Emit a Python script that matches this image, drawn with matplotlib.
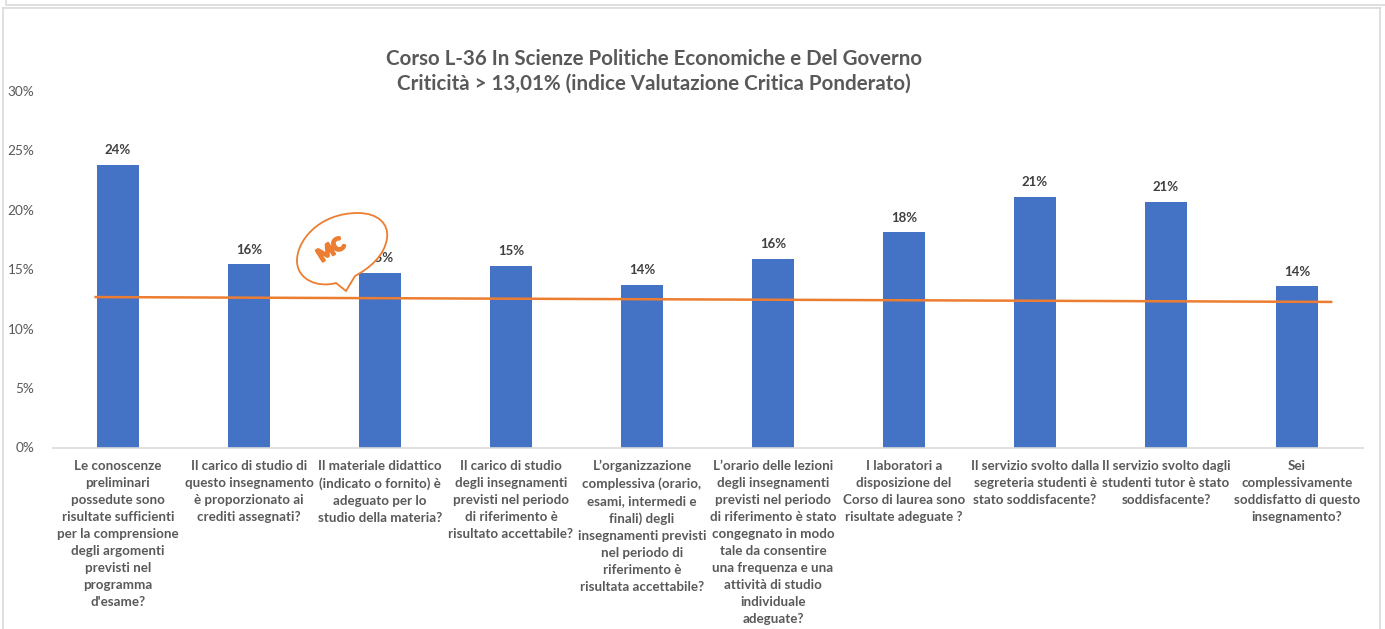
import matplotlib
matplotlib.use("Agg")
import matplotlib.pyplot as plt
import matplotlib.patheffects as pe
from matplotlib.path import Path
from matplotlib.patches import PathPatch
from matplotlib.ticker import FuncFormatter

W, H = 1385, 629

domande = [
    "Le conoscenze\npreliminari\npossedute sono\nrisultate sufficienti\nper la comprensione\ndegli argomenti\nprevisti nel\nprogramma\nd'esame?",
    "Il carico di studio di\nquesto insegnamento\nè proporzionato ai\ncrediti assegnati?",
    "Il materiale didattico\n(indicato o fornito) è\nadeguato per lo\nstudio della materia?",
    "Il carico di studio\ndegli insegnamenti\nprevisti nel periodo\ndi riferimento è\nrisultato accettabile?",
    "L’organizzazione\ncomplessiva (orario,\nesami, intermedi e\nfinali) degli\ninsegnamenti previsti\nnel periodo di\nriferimento è\nrisultata accettabile?",
    "L’orario delle lezioni\ndegli insegnamenti\nprevisti nel periodo\ndi riferimento è stato\ncongegnato in modo\ntale da consentire\nuna frequenza e una\nattività di studio\nindividuale\nadeguate?",
    "I laboratori a\ndisposizione del\nCorso di laurea sono\nrisultate adeguate ?",
    "Il servizio svolto dalla\nsegreteria studenti è\nstato soddisfacente?",
    "Il servizio svolto dagli\nstudenti tutor è stato\nsoddisfacente?",
    "Sei\ncomplessivamente\nsoddisfatto di questo\ninsegnamento?",
]
criticita = [23.8, 15.45, 14.7, 15.3, 13.7, 15.9, 18.1, 21.1, 20.7, 13.55]
etichette = ["24%", "16%", "15%", "15%", "14%", "16%", "18%", "21%", "21%", "14%"]
soglia_x = [-0.18, 9.27]
soglia_y = [12.66, 12.25]
tick_y = [0, 5, 10, 15, 20, 25, 30]
titolo = "Corso L-36 In Scienze Politiche Economiche e Del Governo\nCriticità > 13,01% (indice Valutazione Critica Ponderato)"

BLU = "#4472C4"
ARANCIO = "#ED7D31"
GRIGIO = "#595959"
plt.rcParams["font.family"] = ["Lato", "DejaVu Sans"]

fig = plt.figure(figsize=(W / 100, H / 100), dpi=100, facecolor="white")
ax = fig.add_axes([52.5 / W, 1 - 447.5 / H, 1310 / W, 356.5 / H])

x = list(range(len(criticita)))
ax.bar(x, criticita, width=0.313, color=BLU, zorder=2)
ax.plot(soglia_x, soglia_y, color=ARANCIO, lw=1.8, zorder=3, solid_capstyle="butt")

for xi, v, s in zip(x, criticita, etichette):
    ax.annotate(s, (xi, v), xytext=(0, 6), textcoords="offset points", ha="center", va="bottom",
                fontsize=9.5, fontweight="bold", color="#404040", zorder=1)

ax.set_xlim(-0.5, 9.5)
ax.set_ylim(0, 30)
ax.set_yticks(tick_y)
ax.yaxis.set_major_formatter(FuncFormatter(lambda v, p: f"{v:.0f}%"))
ax.set_xticks(x)
ax.set_xticklabels(domande, fontsize=9.6, fontweight="bold", color=GRIGIO, linespacing=1.5)
ax.tick_params(axis="x", length=0, pad=9)
ax.tick_params(axis="y", length=0, pad=13, labelsize=9.8, labelcolor=GRIGIO)
for side in ["top", "right", "left"]:
    ax.spines[side].set_visible(False)
ax.spines["bottom"].set_color("#d9d9d9")
ax.spines["bottom"].set_linewidth(1.2)

fig.text(654 / W, 1 - 71 / H, titolo, ha="center", va="center", fontsize=14.8, fontweight="bold",
         color=GRIGIO, linespacing=1.3)

# livello in pixel per cornice e fumetto
over = fig.add_axes([0, 0, 1, 1], facecolor="none", zorder=5)
over.set_xlim(0, W)
over.set_ylim(H, 0)
over.axis("off")

for xs, ys in [([6, 6, W], [0, 5, 5]), ([3, 3], [H, 7.5]), ([3, 1380], [7.5, 7.5]), ([1380, 1380], [7.5, H])]:
    over.plot(xs, ys, color="#d9d9d9", lw=1.2)

verts = [
    (297, 262),
    (296, 242), (318, 213), (358, 213),
    (378, 213), (389, 224), (387, 238),
    (385, 255), (370, 268), (355, 276),
    (346, 291), (346, 291), (346, 291),
    (336, 283), (336, 283), (336, 283),
    (318, 288), (298, 280), (297, 262),
]
codes = [Path.MOVETO] + [Path.CURVE4] * 18
over.add_patch(PathPatch(Path(verts, codes), facecolor="white", edgecolor=ARANCIO, lw=1.3))
over.text(331, 250, "MC", rotation=32, ha="center", va="center", fontsize=13, fontweight="black",
          color=ARANCIO, path_effects=[pe.withStroke(linewidth=1.6, foreground=ARANCIO)])

fig.savefig("out.png", dpi=100)
